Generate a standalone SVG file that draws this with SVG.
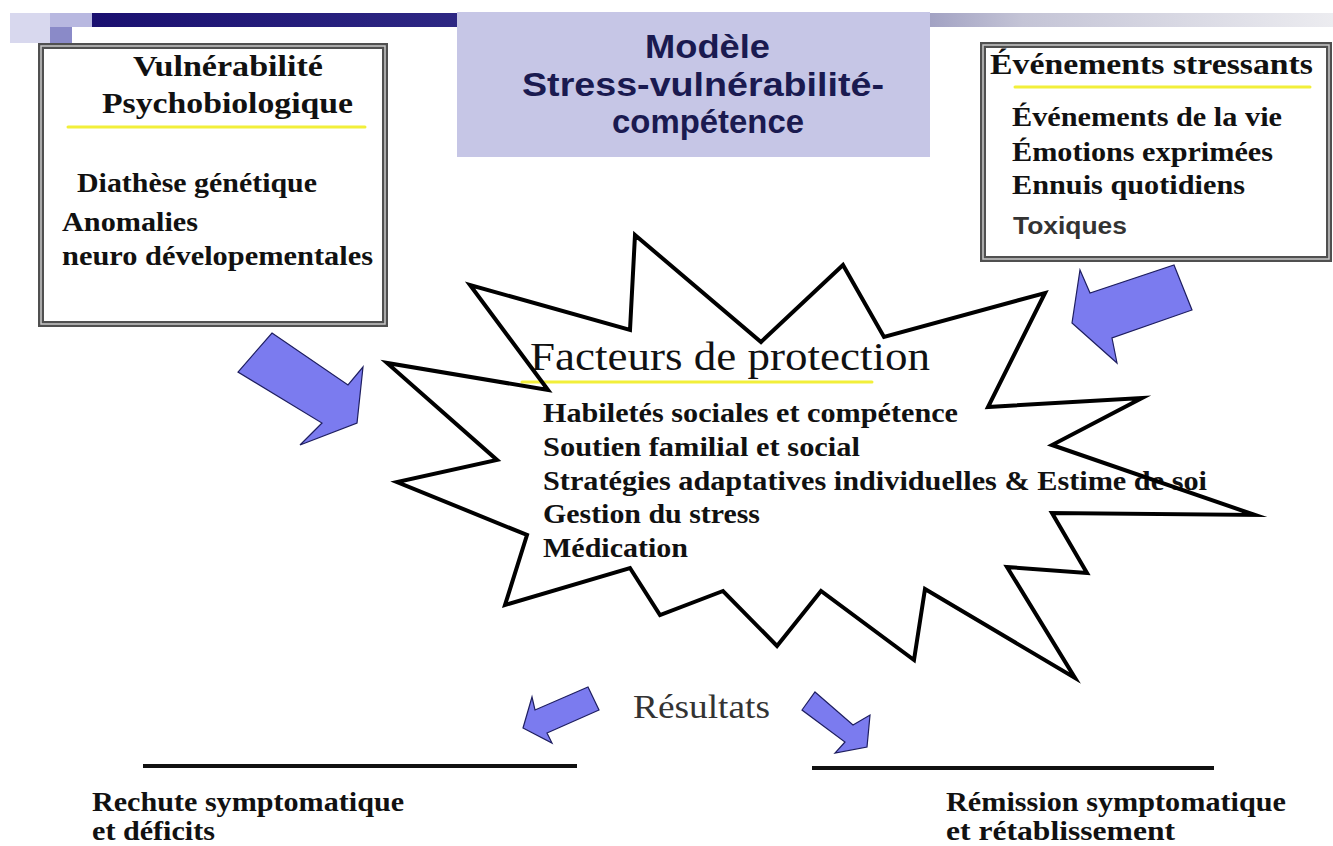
<svg xmlns="http://www.w3.org/2000/svg" width="1333" height="846" viewBox="0 0 1333 846">
<defs>
<linearGradient id="barGrad" x1="92" y1="0" x2="1333" y2="0" gradientUnits="userSpaceOnUse">
<stop offset="0" stop-color="#1a1070"/>
<stop offset="0.3" stop-color="#2e2884"/>
<stop offset="0.6" stop-color="#8080b0"/>
<stop offset="0.75" stop-color="#c4c4d6"/>
<stop offset="1" stop-color="#ececf0"/>
</linearGradient>
<style>
.serif{font-family:"Liberation Serif","Times New Roman",serif;fill:#111;}
.b{font-weight:bold;}
.sans{font-family:"Liberation Sans",Arial,sans-serif;font-weight:bold;}
.title{fill:#1a1a50;font-size:33px;}
.box{fill:#fff;stroke:#505050;stroke-width:6;}
.boxin{fill:none;stroke:#c8c8c8;stroke-width:1.5;}
.ul{stroke:#f2ef3a;stroke-width:3;stroke-linecap:round;}
.arrow{fill:#7b7bef;stroke:#1e1e60;stroke-width:1.2;stroke-linejoin:miter;}
.rule{stroke:#111;stroke-width:4;}
.star{fill:none;stroke:#000;stroke-width:4;stroke-linejoin:miter;stroke-miterlimit:20;}
</style>
</defs>
<rect width="1333" height="846" fill="#fff"/>

<g id="header">
<rect x="10" y="13" width="40" height="30" fill="#d8d8ee"/>
<rect x="50" y="13" width="42" height="14" fill="#b8b8e0"/>
<rect x="50" y="27" width="22" height="16" fill="#8a8ac8"/>
<rect x="92" y="13" width="1241" height="14" fill="url(#barGrad)"/>
</g>

<g id="title">
<rect x="457" y="12" width="473" height="145" fill="#c6c6e6"/>
<text class="sans title" x="645" y="58" textLength="125" lengthAdjust="spacingAndGlyphs">Modèle</text>
<text class="sans title" x="522" y="96" textLength="362" lengthAdjust="spacingAndGlyphs">Stress-vulnérabilité-</text>
<text class="sans title" x="612" y="133" textLength="192" lengthAdjust="spacingAndGlyphs">compétence</text>
</g>

<g id="vulnerabilite">
<rect class="box" x="41" y="46" width="344" height="278"/>
<rect class="boxin" x="41" y="46" width="344" height="278"/>
<text class="serif b" font-size="30" x="133" y="76" textLength="190" lengthAdjust="spacingAndGlyphs">Vulnérabilité</text>
<text class="serif b" font-size="30" x="102" y="113" textLength="251" lengthAdjust="spacingAndGlyphs">Psychobiologique</text>
<line class="ul" x1="68" y1="127" x2="365" y2="127"/>
<text class="serif b" font-size="27" x="77" y="192" textLength="240" lengthAdjust="spacingAndGlyphs">Diathèse génétique</text>
<text class="serif b" font-size="27" x="62" y="231" textLength="136" lengthAdjust="spacingAndGlyphs">Anomalies</text>
<text class="serif b" font-size="27" x="62" y="265" textLength="311" lengthAdjust="spacingAndGlyphs">neuro dévelopementales</text>
</g>

<g id="evenements">
<rect class="box" x="983" y="45" width="346" height="214"/>
<rect class="boxin" x="983" y="45" width="346" height="214"/>
<text class="serif b" font-size="29" x="990" y="74" textLength="323" lengthAdjust="spacingAndGlyphs">Événements stressants</text>
<line class="ul" x1="1015" y1="87" x2="1310" y2="87"/>
<text class="serif b" font-size="26.5" x="1012" y="126" textLength="270" lengthAdjust="spacingAndGlyphs">Événements de la vie</text>
<text class="serif b" font-size="26.5" x="1012" y="161" textLength="261" lengthAdjust="spacingAndGlyphs">Émotions exprimées</text>
<text class="serif b" font-size="26.5" x="1012" y="194" textLength="233" lengthAdjust="spacingAndGlyphs">Ennuis quotidiens</text>
<text class="sans" font-size="23" fill="#333" x="1013" y="234" textLength="114" lengthAdjust="spacingAndGlyphs">Toxiques</text>
</g>

<g id="protection">
<text class="serif" font-size="40" x="530" y="370" textLength="400" lengthAdjust="spacingAndGlyphs">Facteurs de protection</text>
<line class="ul" x1="522" y1="382" x2="872" y2="382"/>
<text class="serif b" font-size="27" x="543" y="422" textLength="415" lengthAdjust="spacingAndGlyphs">Habiletés sociales et compétence</text>
<text class="serif b" font-size="27" x="543" y="456" textLength="317" lengthAdjust="spacingAndGlyphs">Soutien familial et social</text>
<text class="serif b" font-size="27" x="543" y="490" textLength="664" lengthAdjust="spacingAndGlyphs">Stratégies adaptatives individuelles &amp; Estime de soi</text>
<text class="serif b" font-size="27" x="543" y="523" textLength="217" lengthAdjust="spacingAndGlyphs">Gestion du stress</text>
<text class="serif b" font-size="27" x="543" y="557" textLength="145" lengthAdjust="spacingAndGlyphs">Médication</text>
<polygon class="star" points="635,235 761,342 843,265 884,337 1045,293 988,407 1142,398 1052,445 1255,515 1052,513 1087,573 1007,567 1075,678 925,589 914,660 821,591 777,646 723,591 660,615 630,568 505,605 527,535 397,482 497,460 387,363 548,390 470,285 630,330"/>
</g>

<g id="resultats">
<text class="serif" font-size="33" style="fill:#333" x="633" y="718" textLength="137" lengthAdjust="spacingAndGlyphs">Résultats</text>
</g>

<g id="rechute">
<line class="rule" x1="143" y1="766" x2="577" y2="766"/>
<text class="serif b" font-size="27" x="92" y="811" textLength="312" lengthAdjust="spacingAndGlyphs">Rechute symptomatique</text>
<text class="serif b" font-size="27" x="92" y="840" textLength="123" lengthAdjust="spacingAndGlyphs">et déficits</text>
</g>

<g id="remission">
<line class="rule" x1="812" y1="768" x2="1214" y2="768"/>
<text class="serif b" font-size="27" x="946" y="811" textLength="340" lengthAdjust="spacingAndGlyphs">Rémission symptomatique</text>
<text class="serif b" font-size="27" x="946" y="840" textLength="229" lengthAdjust="spacingAndGlyphs">et rétablissement</text>
</g>

<g id="connectors">
<polygon class="arrow" points="272,333 348,385 363,367 357,423 300,445 322,423 238,372"/>
<polygon class="arrow" points="1080,270 1090,293 1174,265 1192,310 1112,338 1117,363 1072,323"/>
<polygon class="arrow" points="532,697 535,710 588,687 599,710 547,733 552,743 523,728"/>
<polygon class="arrow" points="815,692 853,725 870,715 867,747 835,753 845,742 802,710"/>
</g>
</svg>
